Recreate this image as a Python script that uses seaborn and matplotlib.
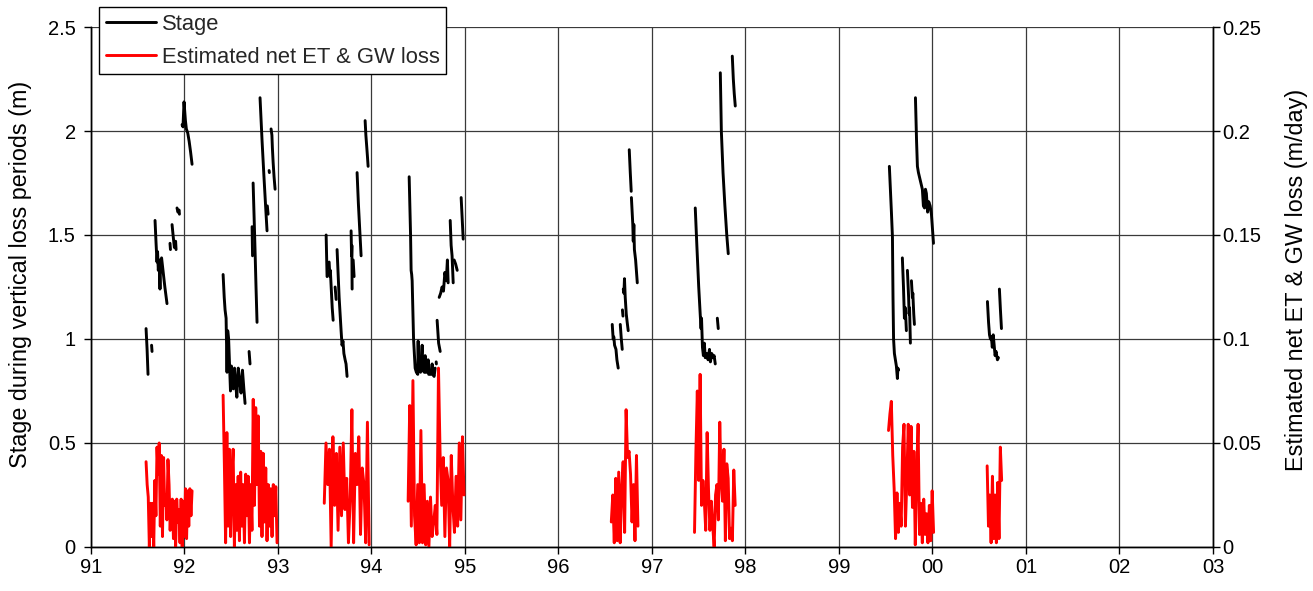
import numpy as np
import pandas as pd
import matplotlib
matplotlib.use("Agg")
import matplotlib.pyplot as plt
from matplotlib.lines import Line2D
import seaborn as sns

# Stage records (decimal year, stage m); each list is one continuous record
stage_segments = [
    [(1991.589, 1.05), (1991.600, 0.95), (1991.610, 0.83)],
    [(1991.648, 0.97), (1991.653, 0.94)],
    [(1991.685, 1.57), (1991.696, 1.46), (1991.706, 1.37), (1991.712, 1.42), (1991.720, 1.33),
     (1991.728, 1.38), (1991.738, 1.24), (1991.744, 1.36), (1991.755, 1.39), (1991.770, 1.33),
     (1991.790, 1.25), (1991.813, 1.17)],
    [(1991.845, 1.46), (1991.850, 1.43)],
    [(1991.867, 1.55), (1991.880, 1.49), (1991.892, 1.44), (1991.905, 1.47), (1991.910, 1.43)],
    [(1991.920, 1.63), (1991.930, 1.61), (1991.942, 1.62), (1991.946, 1.60)],
    [(1991.974, 2.03), (1991.984, 2.02), (1991.995, 2.14), (1992.010, 2.05), (1992.020, 2.01),
     (1992.035, 1.99), (1992.050, 1.95), (1992.065, 1.90), (1992.081, 1.84)],
    [(1992.413, 1.31), (1992.425, 1.20), (1992.434, 1.14), (1992.445, 1.10), (1992.455, 0.84),
     (1992.462, 1.04), (1992.472, 1.00), (1992.480, 0.90), (1992.492, 0.75), (1992.502, 0.87),
     (1992.512, 0.82), (1992.522, 0.76), (1992.535, 0.86), (1992.548, 0.78), (1992.560, 0.72),
     (1992.575, 0.86), (1992.590, 0.80), (1992.605, 0.74), (1992.620, 0.85), (1992.635, 0.76),
     (1992.648, 0.69)],
    [(1992.691, 0.94), (1992.701, 0.88)],
    [(1992.723, 1.54), (1992.728, 1.40)],
    [(1992.734, 1.75), (1992.745, 1.58), (1992.755, 1.42), (1992.765, 1.25), (1992.776, 1.08)],
    [(1992.808, 2.16), (1992.830, 1.95), (1992.850, 1.78), (1992.870, 1.62), (1992.883, 1.52)],
    [(1992.886, 1.64), (1992.894, 1.60)],
    [(1992.905, 1.81), (1992.908, 1.80)],
    [(1992.926, 2.01), (1992.935, 1.98), (1992.940, 1.92), (1992.948, 1.85), (1992.958, 1.78),
     (1992.969, 1.72)],
    [(1993.515, 1.50), (1993.520, 1.40), (1993.525, 1.30)],
    [(1993.547, 1.37), (1993.555, 1.30), (1993.560, 1.33), (1993.570, 1.24), (1993.580, 1.15),
     (1993.590, 1.09)],
    [(1993.611, 1.25), (1993.622, 1.19)],
    [(1993.632, 1.43), (1993.654, 1.20), (1993.675, 1.04), (1993.685, 0.97), (1993.695, 0.99),
     (1993.705, 0.93), (1993.718, 0.90), (1993.728, 0.88), (1993.739, 0.82)],
    [(1993.782, 1.52), (1993.787, 1.40), (1993.790, 1.45), (1993.793, 1.24)],
    [(1993.804, 1.38), (1993.814, 1.30)],
    [(1993.846, 1.80), (1993.860, 1.65), (1993.875, 1.52), (1993.889, 1.40)],
    [(1993.932, 2.05), (1993.940, 1.98), (1993.950, 1.92), (1993.958, 1.87), (1993.964, 1.83)],
    [(1994.403, 1.78), (1994.418, 1.50), (1994.424, 1.33), (1994.430, 1.31), (1994.435, 1.28),
     (1994.450, 1.00), (1994.467, 0.86), (1994.480, 0.84), (1994.495, 0.83), (1994.499, 0.99),
     (1994.505, 0.85), (1994.525, 0.84), (1994.542, 0.97), (1994.548, 0.85), (1994.565, 0.84),
     (1994.574, 0.92), (1994.580, 0.84), (1994.600, 0.84), (1994.606, 0.90), (1994.612, 0.83),
     (1994.635, 0.83), (1994.649, 0.88), (1994.655, 0.83), (1994.670, 0.82), (1994.681, 0.86)],
    [(1994.692, 0.89), (1994.694, 0.88)],
    [(1994.702, 1.09), (1994.718, 0.98), (1994.735, 0.94)],
    [(1994.724, 1.20), (1994.740, 1.22), (1994.755, 1.25), (1994.770, 1.23), (1994.785, 1.32),
     (1994.800, 1.28), (1994.812, 1.38), (1994.820, 1.27)],
    [(1994.842, 1.57), (1994.852, 1.45), (1994.862, 1.40), (1994.874, 1.27)],
    [(1994.884, 1.38), (1994.900, 1.36), (1994.917, 1.33)],
    [(1994.959, 1.68), (1994.970, 1.58), (1994.981, 1.48)],
    [(1996.575, 1.07), (1996.585, 1.00), (1996.592, 1.01), (1996.600, 0.97), (1996.615, 0.95),
     (1996.625, 0.90), (1996.639, 0.86)],
    [(1996.661, 1.07), (1996.672, 1.00), (1996.682, 0.95)],
    [(1996.684, 1.14), (1996.690, 1.11)],
    [(1996.693, 1.24), (1996.700, 1.22), (1996.706, 1.29), (1996.714, 1.20), (1996.725, 1.12),
     (1996.735, 1.08), (1996.746, 1.04)],
    [(1996.757, 1.91), (1996.768, 1.80), (1996.778, 1.71)],
    [(1996.780, 1.68), (1996.795, 1.55), (1996.800, 1.47), (1996.806, 1.55), (1996.812, 1.43),
     (1996.825, 1.38), (1996.843, 1.27)],
    [(1997.463, 1.63), (1997.480, 1.45), (1997.500, 1.25), (1997.517, 1.11), (1997.525, 1.05),
     (1997.530, 1.10), (1997.540, 0.96), (1997.550, 0.92), (1997.560, 0.98), (1997.570, 0.91),
     (1997.585, 0.93), (1997.600, 0.90), (1997.615, 0.95), (1997.625, 0.89), (1997.640, 0.93),
     (1997.655, 0.91), (1997.665, 0.92), (1997.677, 0.88)],
    [(1997.699, 1.10), (1997.709, 1.05)],
    [(1997.731, 2.28), (1997.742, 2.00), (1997.760, 1.80), (1997.780, 1.64), (1997.800, 1.50),
     (1997.816, 1.41)],
    [(1997.834, 1.63), (1997.836, 1.63)],
    [(1997.840, 1.66), (1997.842, 1.66)],
    [(1997.859, 2.36), (1997.870, 2.25), (1997.880, 2.18), (1997.891, 2.12)],
    [(1999.539, 1.83), (1999.561, 1.61), (1999.572, 1.49), (1999.578, 1.20), (1999.584, 1.00),
     (1999.593, 0.93), (1999.614, 0.87), (1999.625, 0.81), (1999.630, 0.86), (1999.636, 0.85)],
    [(1999.678, 1.39), (1999.690, 1.25), (1999.700, 1.10), (1999.710, 1.15), (1999.721, 1.04)],
    [(1999.732, 1.33), (1999.745, 1.20), (1999.750, 1.12), (1999.755, 1.15), (1999.764, 0.98)],
    [(1999.775, 1.28), (1999.785, 1.20), (1999.790, 1.22), (1999.800, 1.12), (1999.807, 1.07)],
    [(1999.818, 2.16), (1999.830, 1.95), (1999.839, 1.83), (1999.850, 1.80), (1999.871, 1.76),
     (1999.892, 1.72), (1999.903, 1.64), (1999.915, 1.63), (1999.925, 1.72), (1999.935, 1.70),
     (1999.948, 1.61), (1999.960, 1.66), (1999.975, 1.64), (1999.989, 1.60), (2000.011, 1.46)],
    [(2000.588, 1.18), (2000.600, 1.08), (2000.610, 1.02), (2000.620, 1.00), (2000.630, 1.01),
     (2000.640, 0.96), (2000.650, 1.02), (2000.660, 0.97), (2000.670, 0.92), (2000.680, 0.94),
     (2000.695, 0.90), (2000.706, 0.91)],
    [(2000.716, 1.24), (2000.727, 1.14), (2000.738, 1.05)],
]

# Estimated net ET & GW loss (m/day): loss period start, end and daily values
et_periods = [
    (1991.589, 1992.081,
     [0.041, 0.030, 0.024, 0.000, 0.021, 0.005, 0.021, 0.000, 0.032, 0.015, 0.048, 0.035,
      0.050, 0.010, 0.044, 0.005, 0.043, 0.020, 0.025, 0.013, 0.042, 0.030, 0.008, 0.022,
      0.023, 0.004, 0.022, 0.000, 0.023, 0.012, 0.018, 0.002, 0.023, 0.000, 0.022, 0.005,
      0.028, 0.004, 0.027, 0.010, 0.028, 0.015, 0.027]),
    (1992.413, 1992.990,
     [0.073, 0.040, 0.002, 0.055, 0.010, 0.047, 0.005, 0.034, 0.047, 0.000, 0.030, 0.008,
      0.034, 0.003, 0.036, 0.010, 0.030, 0.002, 0.035, 0.015, 0.034, 0.002, 0.030, 0.008,
      0.071, 0.020, 0.067, 0.030, 0.063, 0.010, 0.046, 0.005, 0.045, 0.012, 0.038, 0.003,
      0.030, 0.010, 0.028, 0.005, 0.030, 0.015, 0.029, 0.002]),
    (1993.495, 1993.975,
     [0.021, 0.050, 0.030, 0.047, 0.000, 0.053, 0.020, 0.045, 0.008, 0.048, 0.015, 0.050,
      0.018, 0.033, 0.002, 0.022, 0.066, 0.002, 0.045, 0.030, 0.053, 0.006, 0.038, 0.030,
      0.002, 0.060, 0.001]),
    (1994.392, 1994.990,
     [0.022, 0.068, 0.010, 0.080, 0.015, 0.001, 0.030, 0.002, 0.056, 0.002, 0.030, 0.001,
      0.022, 0.000, 0.024, 0.005, 0.012, 0.020, 0.006, 0.086, 0.045, 0.020, 0.043, 0.005,
      0.038, 0.032, 0.000, 0.044, 0.020, 0.007, 0.034, 0.010, 0.050, 0.013, 0.053, 0.025]),
    (1996.565, 1996.850,
     [0.012, 0.025, 0.002, 0.033, 0.003, 0.036, 0.002, 0.028, 0.041, 0.007, 0.066, 0.043,
      0.046, 0.035, 0.012, 0.030, 0.003, 0.044, 0.010]),
    (1997.455, 1997.890,
     [0.007, 0.046, 0.075, 0.032, 0.083, 0.020, 0.032, 0.022, 0.008, 0.055, 0.027, 0.008,
      0.022, 0.010, 0.000, 0.025, 0.030, 0.013, 0.060, 0.032, 0.022, 0.047, 0.003, 0.040,
      0.033, 0.004, 0.009, 0.003, 0.037, 0.020]),
    (1999.530, 2000.012,
     [0.056, 0.064, 0.070, 0.044, 0.028, 0.004, 0.026, 0.007, 0.021, 0.010, 0.048, 0.059,
      0.010, 0.032, 0.059, 0.025, 0.058, 0.019, 0.046, 0.001, 0.036, 0.059, 0.006, 0.021,
      0.002, 0.023, 0.006, 0.016, 0.002, 0.020, 0.003, 0.027, 0.007]),
    (2000.585, 2000.740,
     [0.039, 0.010, 0.025, 0.002, 0.034, 0.004, 0.025, 0.002, 0.031, 0.004, 0.048, 0.032]),
]

year_ticks = list(range(1991, 2004))
year_labels = ["91", "92", "93", "94", "95", "96", "97", "98", "99", "00", "01", "02", "03"]
stage_ticks = [0, 0.5, 1, 1.5, 2, 2.5]
stage_labels = ["0", "0.5", "1", "1.5", "2", "2.5"]
et_ticks = [0, 0.05, 0.10, 0.15, 0.20, 0.25]
et_labels = ["0", "0.05", "0.1", "0.15", "0.2", "0.25"]

# Long-form tables, one unit per continuous record
stage_df = pd.DataFrame(
    [(i, t, v) for i, seg in enumerate(stage_segments) for t, v in seg],
    columns=["record", "year", "stage"],
)
et_rows = []
for i, (t0, t1, vals) in enumerate(et_periods):
    for t, v in zip(np.linspace(t0, t1, len(vals)), vals):
        et_rows.append((i, t, v))
et_df = pd.DataFrame(et_rows, columns=["period", "year", "loss"])

sns.set_theme(style="white")
plt.rcParams["font.family"] = ["Liberation Sans", "DejaVu Sans"]

fig = plt.figure(figsize=(13.13, 5.91), dpi=100)
ax = fig.add_axes([0.0693, 0.0745, 0.8545, 0.8798])
ax2 = ax.twinx()

grid_c = "#3a3a3a"
for t in year_ticks:
    ax.axvline(t, color=grid_c, lw=0.9, zorder=0)
for s in stage_ticks:
    ax.axhline(s, color=grid_c, lw=0.9, zorder=0)

sns.lineplot(data=et_df, x="year", y="loss", units="period", estimator=None, sort=False,
             color="#ff0000", lw=2.1, ax=ax2)
sns.lineplot(data=stage_df, x="year", y="stage", units="record", estimator=None, sort=False,
             color="black", lw=2.1, ax=ax)

ax.set_xlim(1991, 2003)
ax.set_ylim(0, 2.5)
ax2.set_ylim(0, 0.25)
ax.set_xticks(year_ticks)
ax.set_xticklabels(year_labels)
ax.set_yticks(stage_ticks)
ax.set_yticklabels(stage_labels)
ax2.set_yticks(et_ticks)
ax2.set_yticklabels(et_labels)

fs = 14.5
ax.tick_params(axis="x", direction="out", length=5, width=1, color="black",
               labelsize=fs, labelcolor="black", pad=3, bottom=True)
ax.tick_params(axis="y", direction="out", length=5, width=1, color="black",
               labelsize=fs, labelcolor="black", pad=6, left=True)
ax2.tick_params(axis="y", direction="out", length=5, width=1, color="black",
                labelsize=fs, labelcolor="black", pad=1.5, right=True)

ax.set_xlabel("")
ax.set_ylabel("Stage during vertical loss periods (m)", fontsize=16.8, color="black")
ax2.set_ylabel("Estimated net ET & GW loss (m/day)", fontsize=16.8, color="black")
ax.yaxis.set_label_coords(-0.0525, 0.525)
ax2.yaxis.set_label_coords(1.0645, 0.513)

for a in (ax, ax2):
    for side in ("left", "bottom", "right"):
        a.spines[side].set_color("black")
        a.spines[side].set_linewidth(1.0)
    a.spines["top"].set_visible(False)

handles = [Line2D([], [], color="black", lw=2.1), Line2D([], [], color="#ff0000", lw=2.1)]
leg = fig.legend(handles, ["Stage", "Estimated net ET & GW loss"], loc="upper left",
                 bbox_to_anchor=(99 / 1313, 1 - 7 / 591), fontsize=15.8, frameon=True,
                 fancybox=False, edgecolor="black", framealpha=1, borderpad=0.3,
                 handlelength=2.3, handletextpad=0.25, labelspacing=0.55, borderaxespad=0)
leg.get_frame().set_linewidth(1.0)

fig.savefig("out.png", dpi=100)
